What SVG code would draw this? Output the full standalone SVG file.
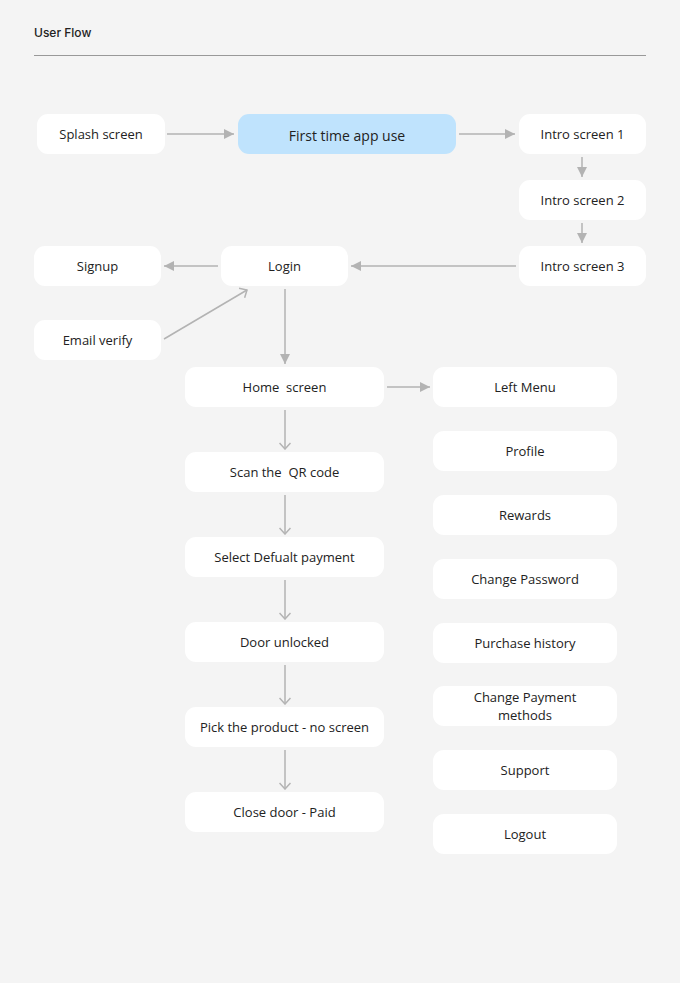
<svg xmlns="http://www.w3.org/2000/svg" width="680" height="983" viewBox="0 0 680 983">
<defs>
<marker id="fill" viewBox="0 0 10 10" refX="10" refY="5" markerWidth="10" markerHeight="10" markerUnits="userSpaceOnUse" orient="auto">
<path d="M0,0 L10,5 L0,10 Z" fill="#b3b3b3"/>
</marker>
<marker id="open" viewBox="0 0 12 12" refX="11" refY="6" markerWidth="12" markerHeight="12" markerUnits="userSpaceOnUse" orient="auto">
<path d="M5,0.5 L11,6 L5,11.5" fill="none" stroke="#b3b3b3" stroke-width="1.5"/>
</marker>
</defs>
<style>
.n rect{fill:#ffffff;}
.n text{font-family:"Open Sans","Noto Sans",sans-serif;font-size:13px;fill:#222;text-anchor:middle;dominant-baseline:central;white-space:pre;}
.hl rect{fill:#bfe3fd;}
.hl text{font-size:14px;}
.c line{stroke:#b3b3b3;stroke-width:1.5;}
.f{marker-end:url(#fill);}
.o{marker-end:url(#open);}
</style>
<rect x="0" y="0" width="680" height="983" fill="#f4f4f4"/>
<text x="34" y="37" font-family="Inter,'Liberation Sans',sans-serif" font-size="12" font-weight="500" fill="#222">User Flow</text>
<line x1="34" y1="55.5" x2="646" y2="55.5" stroke="#999" stroke-width="1"/>

<g id="splash" class="n"><rect x="37" y="114" width="128" height="40" rx="11"/><text x="101" y="134">Splash screen</text></g>
<g id="first" class="n hl"><rect x="238" y="114" width="218" height="40" rx="11"/><text x="347" y="135">First time app use</text></g>
<g id="intro1" class="n"><rect x="519" y="114" width="127" height="40" rx="11"/><text x="582.5" y="134">Intro screen 1</text></g>
<g id="intro2" class="n"><rect x="519" y="180" width="127" height="40" rx="11"/><text x="582.5" y="200">Intro screen 2</text></g>
<g id="intro3" class="n"><rect x="519" y="246" width="127" height="40" rx="11"/><text x="582.5" y="266">Intro screen 3</text></g>
<g id="login" class="n"><rect x="221" y="246" width="127" height="40" rx="11"/><text x="284.5" y="266">Login</text></g>
<g id="signup" class="n"><rect x="34" y="246" width="127" height="40" rx="11"/><text x="97.5" y="266">Signup</text></g>
<g id="email" class="n"><rect x="34" y="320" width="127" height="40" rx="11"/><text x="97.5" y="340">Email verify</text></g>
<g id="home" class="n"><rect x="185" y="367" width="199" height="40" rx="11"/><text x="284.5" y="387" xml:space="preserve">Home  screen</text></g>
<g id="leftmenu" class="n"><rect x="433" y="367" width="184" height="40" rx="11"/><text x="525" y="387">Left Menu</text></g>
<g id="scan" class="n"><rect x="185" y="452" width="199" height="40" rx="11"/><text x="284.5" y="472" xml:space="preserve">Scan the  QR code</text></g>
<g id="select" class="n"><rect x="185" y="537" width="199" height="40" rx="11"/><text x="284.5" y="557">Select Defualt payment</text></g>
<g id="door" class="n"><rect x="185" y="622" width="199" height="40" rx="11"/><text x="284.5" y="642">Door unlocked</text></g>
<g id="pick" class="n"><rect x="185" y="707" width="199" height="40" rx="11"/><text x="284.5" y="727">Pick the product - no screen</text></g>
<g id="close" class="n"><rect x="185" y="792" width="199" height="40" rx="11"/><text x="284.5" y="812">Close door - Paid</text></g>
<g id="profile" class="n"><rect x="433" y="431" width="184" height="40" rx="11"/><text x="525" y="451">Profile</text></g>
<g id="rewards" class="n"><rect x="433" y="495" width="184" height="40" rx="11"/><text x="525" y="515">Rewards</text></g>
<g id="changepw" class="n"><rect x="433" y="559" width="184" height="40" rx="11"/><text x="525" y="579">Change Password</text></g>
<g id="purchase" class="n"><rect x="433" y="623" width="184" height="40" rx="11"/><text x="525" y="643">Purchase history</text></g>
<g id="changepay" class="n"><rect x="433" y="686" width="184" height="40" rx="11"/><text x="525" y="697">Change Payment</text><text x="525" y="715">methods</text></g>
<g id="support" class="n"><rect x="433" y="750" width="184" height="40" rx="11"/><text x="525" y="770">Support</text></g>
<g id="logout" class="n"><rect x="433" y="814" width="184" height="40" rx="11"/><text x="525" y="834">Logout</text></g>

<g id="connectors" class="c">
<line class="f" x1="167" y1="134" x2="234" y2="134"/>
<line class="f" x1="459" y1="134" x2="515" y2="134"/>
<line class="f" x1="582" y1="157" x2="582" y2="177"/>
<line class="f" x1="582" y1="223" x2="582" y2="243"/>
<line class="f" x1="516" y1="266" x2="351" y2="266"/>
<line class="f" x1="218" y1="266" x2="164" y2="266"/>
<line class="o" x1="164" y1="339" x2="247" y2="290"/>
<line class="f" x1="285" y1="289" x2="285" y2="364"/>
<line class="f" x1="387" y1="387" x2="430" y2="387"/>
<line class="o" x1="285" y1="410" x2="285" y2="449"/>
<line class="o" x1="285" y1="495" x2="285" y2="534"/>
<line class="o" x1="285" y1="580" x2="285" y2="619"/>
<line class="o" x1="285" y1="665" x2="285" y2="704"/>
<line class="o" x1="285" y1="750" x2="285" y2="789"/>
</g>
</svg>
